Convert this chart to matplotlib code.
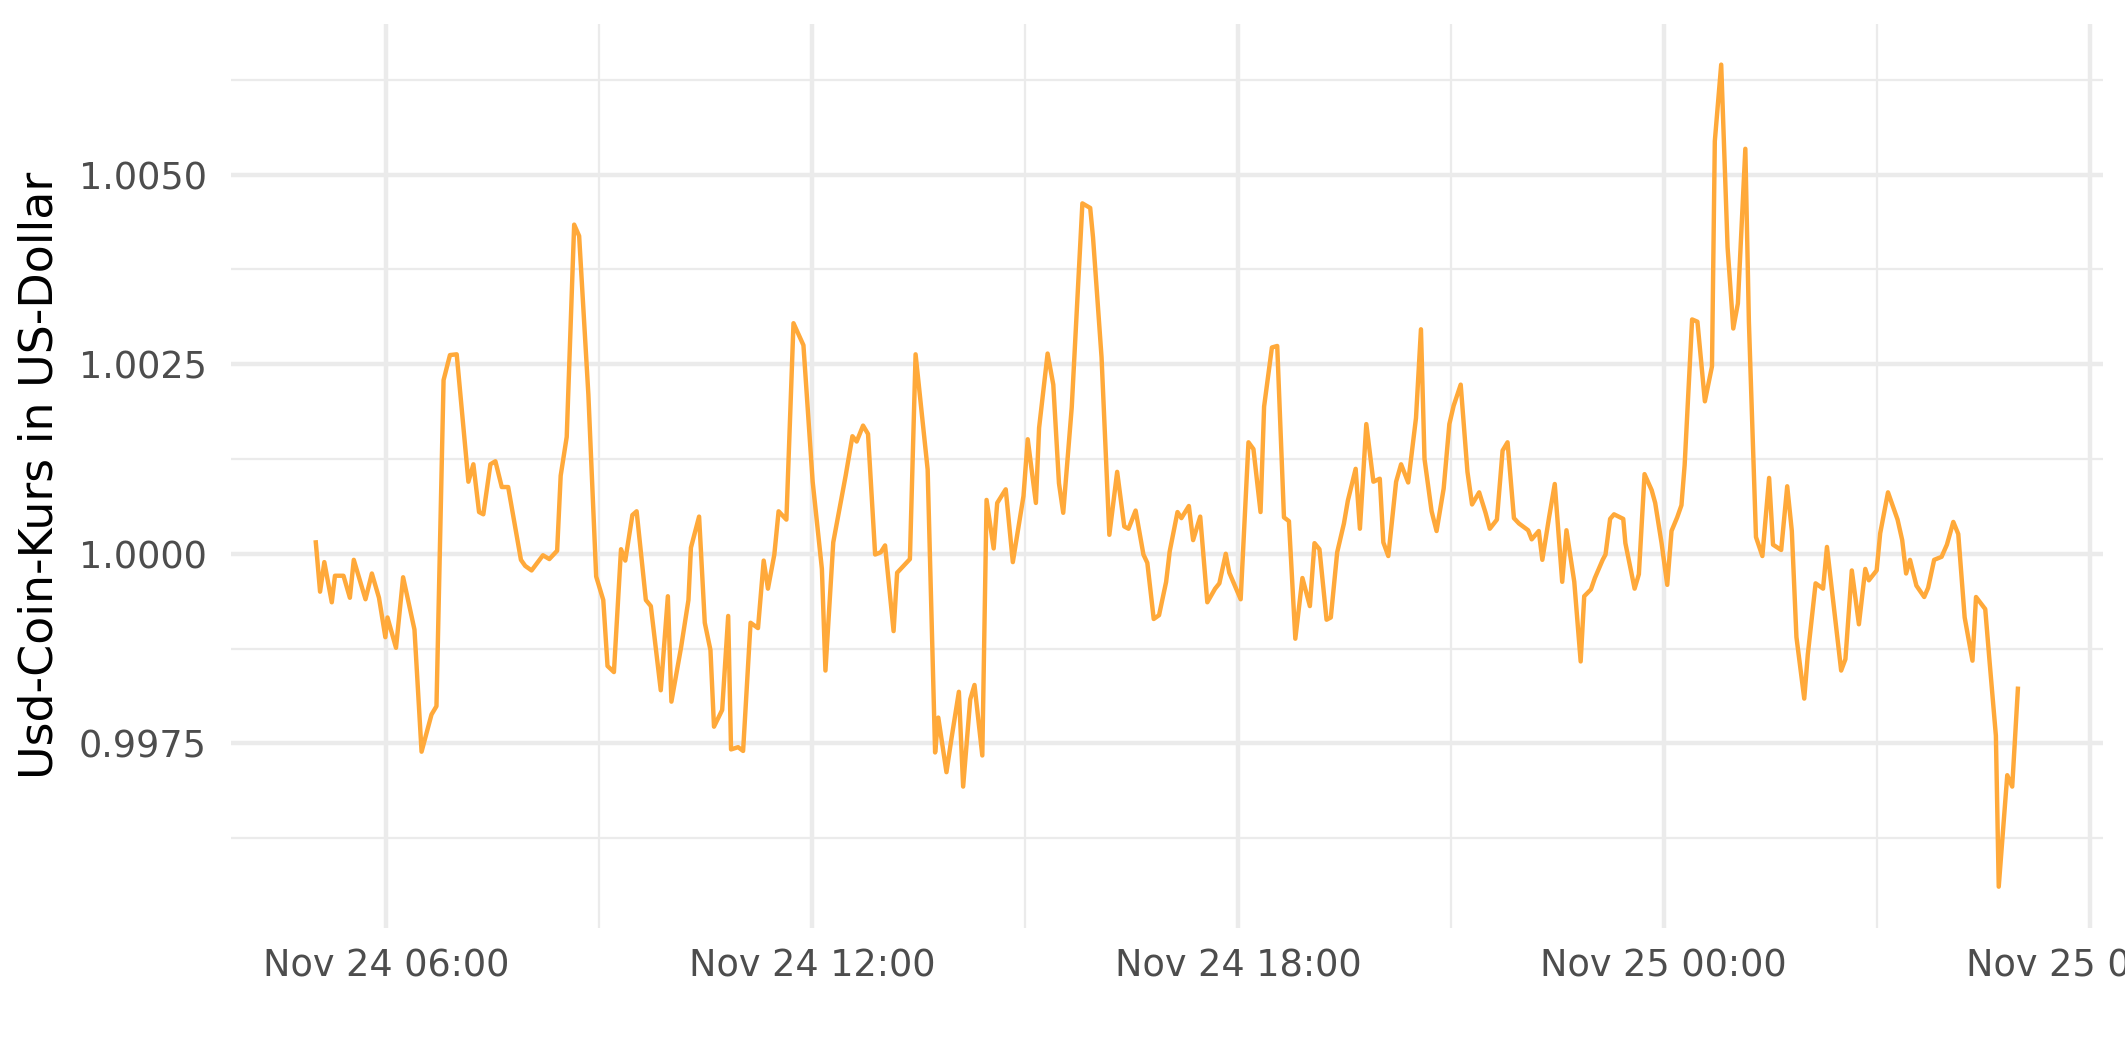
import matplotlib
matplotlib.use("Agg")
import matplotlib.pyplot as plt
import matplotlib.dates as mdates
from matplotlib.ticker import FixedLocator, FuncFormatter
import pandas as pd

# hours since Nov 24 00:00
hours = [
    5.01, 5.07, 5.13, 5.235, 5.28, 5.40, 5.49, 5.545, 5.71, 5.80, 5.90, 5.99, 6.02, 6.14, 6.24,
    6.40, 6.50, 6.64, 6.71, 6.81, 6.90, 6.995, 7.16, 7.23, 7.31, 7.37, 7.47, 7.54, 7.63, 7.72,
    7.90, 7.96, 8.05, 8.21, 8.30, 8.41, 8.46, 8.545, 8.65, 8.72, 8.85, 8.96, 9.06, 9.12, 9.21,
    9.31, 9.37, 9.47, 9.53, 9.66, 9.73, 9.87, 9.97, 10.02, 10.155, 10.26, 10.295, 10.41,
    10.49, 10.57, 10.62, 10.735, 10.82, 10.86, 10.96, 11.03, 11.135, 11.24, 11.32, 11.38, 11.47,
    11.53, 11.64, 11.74, 11.88, 12.01, 12.14, 12.19, 12.30, 12.34, 12.475, 12.57, 12.63, 12.72,
    12.79, 12.89, 12.97, 13.03, 13.15, 13.20, 13.32, 13.38, 13.46, 13.63, 13.735, 13.78, 13.895,
    13.965, 14.07, 14.13, 14.23, 14.29, 14.40, 14.46, 14.56, 14.61, 14.73, 14.83, 14.98, 15.04,
    15.155, 15.20, 15.32, 15.40, 15.48, 15.54, 15.66, 15.81, 15.92, 15.96, 16.08, 16.19, 16.30,
    16.40, 16.46, 16.56, 16.67, 16.725,
    16.815, 16.89, 16.99, 17.04, 17.15, 17.205, 17.31, 17.37, 17.47, 17.57, 17.68, 17.74, 17.83,
    17.88, 18.04, 18.15, 18.22, 18.32, 18.37, 18.48, 18.555, 18.65, 18.72, 18.81, 18.91, 19.015,
    19.08, 19.15, 19.25, 19.31, 19.40, 19.495, 19.55, 19.66, 19.72, 19.81, 19.91, 20.00, 20.05,
    20.12, 20.23, 20.30, 20.40, 20.51, 20.58, 20.63, 20.73, 20.80, 20.90, 20.98, 21.04, 21.14,
    21.235, 21.30, 21.40, 21.49, 21.55, 21.65, 21.73, 21.80, 21.89, 21.96, 22.09, 22.14, 22.24,
    22.29, 22.385, 22.465, 22.57, 22.63, 22.74, 22.83, 22.88, 22.975, 23.03,
    23.14, 23.18, 23.245, 23.30, 23.43, 23.46, 23.59, 23.65, 23.73, 23.83, 23.88, 23.97, 24.05,
    24.11, 24.19, 24.25, 24.295, 24.40, 24.475, 24.58, 24.68, 24.72, 24.81, 24.90, 24.98, 25.045,
    25.15, 25.20, 25.30, 25.39, 25.485, 25.54, 25.655, 25.74, 25.805, 25.87, 25.98, 26.03, 26.14,
    26.245, 26.30, 26.40, 26.50, 26.56, 26.65, 26.75, 26.84, 26.89, 27.00, 27.05, 27.16, 27.295,
    27.36, 27.415, 27.47, 27.56, 27.67, 27.725, 27.81, 27.915, 27.99, 28.08, 28.15, 28.24, 28.35,
    28.40, 28.53, 28.59, 28.68, 28.72, 28.84, 28.91, 28.99,
]

price = [
    1.00015, 0.99950, 0.99989, 0.99936, 0.99971, 0.99971, 0.99942, 0.99992, 0.99940, 0.99974,
    0.99942, 0.99890, 0.99916, 0.99876, 0.99969, 0.99900, 0.99739, 0.99788, 0.99799, 1.00229,
    1.00262, 1.00263, 1.00095, 1.00118, 1.00055, 1.00052, 1.00118, 1.00122, 1.00088, 1.00088,
    0.99992, 0.99984, 0.99978, 0.99998, 0.99993, 1.00004, 1.00103, 1.00154, 1.00434, 1.00419,
    1.00210, 0.99970, 0.99939, 0.99852, 0.99844, 1.00006, 0.99991, 1.00051, 1.00056, 0.99939,
    0.99931, 0.99820, 0.99944, 0.99805, 0.99876, 0.99939, 1.00008, 1.00049,
    0.99909, 0.99873, 0.99772, 0.99794, 0.99918, 0.99742, 0.99745, 0.99740, 0.99909, 0.99902,
    0.99991, 0.99954, 0.99999, 1.00056, 1.00045, 1.00304, 1.00275, 1.00095, 0.99980, 0.99846,
    1.00015, 1.00035, 1.00103, 1.00155, 1.00148, 1.00169, 1.00158, 0.99999, 1.00002, 1.00011,
    0.99898, 0.99975, 0.99987, 0.99993, 1.00263, 1.00111, 0.99738, 0.99784, 0.99712, 0.99756,
    0.99818, 0.99693, 0.99808, 0.99827, 0.99734, 1.00071, 1.00007, 1.00067, 1.00085, 0.99989,
    1.00076, 1.00151, 1.00067, 1.00166, 1.00264, 1.00223, 1.00093, 1.00054, 1.00193, 1.00462,
    1.00456, 1.00417, 1.00259, 1.00025, 1.00108, 1.00036, 1.00033, 1.00057, 0.99999, 0.99988,
    0.99914, 0.99919, 0.99963, 1.00003, 1.00055, 1.00047, 1.00063, 1.00018, 1.00049, 0.99936,
    0.99954, 0.99961, 1.00000, 0.99975, 0.99940, 1.00147, 1.00138, 1.00055, 1.00194, 1.00272,
    1.00274, 1.00048, 1.00043, 0.99888, 0.99968, 0.99931, 1.00014, 1.00006, 0.99913, 0.99916,
    1.00002, 1.00040, 1.00070, 1.00112, 1.00033, 1.00171, 1.00095, 1.00099, 1.00015, 0.99997,
    1.00095, 1.00118, 1.00094, 1.00179, 1.00296, 1.00125, 1.00056, 1.00030, 1.00086, 1.00171,
    1.00195, 1.00223, 1.00108, 1.00065, 1.00081, 1.00054, 1.00033, 1.00045, 1.00136, 1.00147,
    1.00047, 1.00040, 1.00031, 1.00019, 1.00030, 0.99992, 1.00048, 1.00092, 0.99963, 1.00031,
    0.99963, 0.99858, 0.99944, 0.99953, 0.99968,
    0.99992, 0.99999, 1.00046, 1.00052, 1.00046, 1.00014, 0.99954, 0.99973, 1.00105, 1.00084,
    1.00067, 1.00014, 0.99959, 1.00030, 1.00048, 1.00064, 1.00117, 1.00309, 1.00306, 1.00201,
    1.00247, 1.00544, 1.00645, 1.00404, 1.00297, 1.00330, 1.00534, 1.00306, 1.00022, 0.99997,
    1.00100, 1.00012, 1.00005, 1.00089, 1.00030, 0.99890, 0.99809, 0.99867, 0.99961, 0.99954,
    1.00009, 0.99927, 0.99846, 0.99861, 0.99978, 0.99907, 0.99980, 0.99965, 0.99978, 1.00027,
    1.00081, 1.00045, 1.00018, 0.99974, 0.99992, 0.99958, 0.99943, 0.99955, 0.99992, 0.99996,
    1.00012, 1.00042, 1.00026, 0.99916, 0.99859, 0.99943, 0.99927, 0.99859, 0.99760, 0.99561,
    0.99708, 0.99693, 0.99822,
]

y_major = [0.9975, 1.0000, 1.0025, 1.0050]
y_minor = [0.99625, 0.99875, 1.00125, 1.00375, 1.00625]
y_label = "Usd-Coin-Kurs in US-Dollar"

base = pd.Timestamp("2021-11-24 00:00")
times = base + pd.to_timedelta(hours, unit="h")

W, H = 2125, 1062
fig = plt.figure(figsize=(W / 300, H / 300), dpi=300)
left, right, top, bottom = 230.7, 2103.0, 23.5, 927.8
ax = fig.add_axes([left / W, 1 - bottom / H, (right - left) / W, (bottom - top) / H])

grid_col = "#EBEBEB"
ax.plot(times, price, color="#FFA93A", lw=1.06, solid_joinstyle="round", zorder=3)

t0, t1 = times.min(), times.max()
span = t1 - t0
ax.set_xlim(t0 - 0.05 * span, t1 + 0.05 * span)
ymin, ymax = min(price), max(price)
yr = ymax - ymin
ax.set_ylim(ymin - 0.05 * yr, ymax + 0.05 * yr)

ax.xaxis.set_major_locator(mdates.HourLocator(byhour=[0, 6, 12, 18]))
ax.xaxis.set_minor_locator(mdates.HourLocator(byhour=[3, 9, 15, 21]))
ax.xaxis.set_major_formatter(mdates.DateFormatter("%b %d %H:%M"))
ax.yaxis.set_major_locator(FixedLocator(y_major))
ax.yaxis.set_minor_locator(FixedLocator(y_minor))
ax.yaxis.set_major_formatter(FuncFormatter(lambda v, p: f"{v:.4f}"))

ax.grid(which="major", color=grid_col, lw=1.06)
ax.grid(which="minor", color=grid_col, lw=0.53)
ax.set_axisbelow(True)
for s in ax.spines.values():
    s.set_visible(False)
ax.tick_params(which="both", length=0)
ax.tick_params(axis="x", labelsize=8.8, labelcolor="#4D4D4D", pad=4.8)
ax.tick_params(axis="y", labelsize=8.8, labelcolor="#4D4D4D", pad=5.7)

fig.text(40 / W, 1 - (top + bottom) / 2 / H, y_label, rotation=90,
         ha="center", va="center", fontsize=11, color="black")

fig.savefig("out.png", dpi=300)
